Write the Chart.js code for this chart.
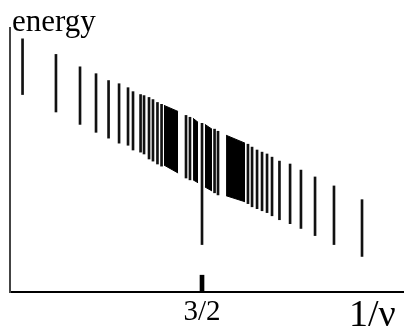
<!DOCTYPE html>
<html>
<head>
<meta charset="utf-8">
<script src="https://cdn.jsdelivr.net/npm/chart.js@4.4.1/dist/chart.umd.min.js"></script>
<style>
  html, body { margin: 0; padding: 0; background: #fff; }
  #wrap { width: 404px; height: 333px; position: relative; }
</style>
</head>
<body>
<div id="wrap"><canvas id="c"></canvas></div>
<script>
// Individual energy levels: position on the 1/nu axis, upper and lower energy
const levelX      = [0.098, 0.359, 0.547, 0.672, 0.770, 0.852, 0.922, 0.961, 1.020, 1.047, 1.086, 1.117, 1.152, 1.184,
                     1.375, 1.406, 1.500, 1.598, 1.625, 1.859, 1.891, 1.930, 1.969, 2.008, 2.047, 2.105, 2.188, 2.273,
                     2.383, 2.531, 2.750];
const levelTop    = [9.59, 9.00, 8.53, 8.27, 8.01, 7.89, 7.74, 7.59, 7.48, 7.44, 7.37, 7.29, 7.18, 7.11,
                     6.69, 6.62, 6.39, 6.17, 6.09, 5.60, 5.49, 5.38, 5.30, 5.23, 5.11, 4.96, 4.85, 4.62,
                     4.36, 4.02, 3.50];
const levelBottom = [7.48, 6.82, 6.35, 6.05, 5.83, 5.64, 5.56, 5.38, 5.30, 5.23, 5.04, 4.96, 4.85, 4.77,
                     4.32, 4.25, 1.80, 3.76, 3.68, 3.35, 3.23, 3.16, 3.08, 3.01, 2.89, 2.74, 2.59, 2.41,
                     2.14, 1.80, 1.35];

// Dense bands of levels (accumulations): x range, top edge, bottom edge
const bandXStart   = [1.203, 1.430, 1.523, 1.688];
const bandXEnd     = [1.313, 1.469, 1.578, 1.836];
const bandTopStart = [7.07, 6.58, 6.35, 5.94];
const bandTopEnd   = [6.84, 6.43, 6.17, 5.64];
const bandBotStart = [4.81, 4.25, 3.98, 3.65];
const bandBotEnd   = [4.51, 4.14, 3.83, 3.42];

// Axis ticks
const tickValues = [1.5];
const tickLabels = ['3/2'];
const tickMarkHeight = 0.64;

const xMin = 0, xMax = 3.078, yMin = 0, yMax = 10;

const datasets = [];
datasets.push({
  type: 'bar',
  data: levelX.map((x, i) => ({ x: x, y: [levelBottom[i], levelTop[i]] })),
  backgroundColor: '#111',
  barThickness: 2,
  grouped: false,
  borderWidth: 0
});
datasets.push({
  type: 'bar',
  data: tickValues.map(v => ({ x: v, y: [0, tickMarkHeight] })),
  backgroundColor: '#000',
  barThickness: 4,
  grouped: false,
  borderWidth: 0
});
bandXStart.forEach((x0, i) => {
  datasets.push({
    type: 'line',
    data: [{ x: x0, y: bandTopStart[i] }, { x: bandXEnd[i], y: bandTopEnd[i] }],
    borderColor: '#000', borderWidth: 1, pointRadius: 0,
    backgroundColor: '#000', fill: '+1', tension: 0
  });
  datasets.push({
    type: 'line',
    data: [{ x: x0, y: bandBotStart[i] }, { x: bandXEnd[i], y: bandBotEnd[i] }],
    borderColor: '#000', borderWidth: 1, pointRadius: 0,
    fill: false, tension: 0
  });
});

const textPlugin = {
  id: 'texts',
  afterDraw(chart) {
    const ctx = chart.ctx, a = chart.chartArea;
    ctx.save();
    ctx.fillStyle = '#000';
    ctx.textBaseline = 'alphabetic';
    ctx.textAlign = 'left';
    ctx.font = '31px "Liberation Serif"';
    ctx.fillText('energy', a.left + 2, a.top + 3);
    ctx.font = '38px "Liberation Serif"';
    ctx.fillText('1/ν', a.right - 55, a.bottom + 34);
    ctx.restore();
  }
};

new Chart(document.getElementById('c'), {
  type: 'bar',
  data: { datasets: datasets },
  options: {
    responsive: true,
    maintainAspectRatio: false,
    animation: false,
    layout: { padding: { left: 10, right: 0, top: 28, bottom: 1 } },
    plugins: { legend: { display: false }, tooltip: { enabled: false } },
    scales: {
      x: {
        type: 'linear', min: xMin, max: xMax, offset: false,
        afterBuildTicks: axis => { axis.ticks = tickValues.map(v => ({ value: v })); },
        ticks: {
          autoSkip: false,
          padding: 4,
          color: '#000',
          font: { family: 'Liberation Serif', size: 29, lineHeight: 1.1 },
          callback: (v) => { const i = tickValues.indexOf(v); return i >= 0 ? tickLabels[i] : ''; }
        },
        grid: { display: false, drawTicks: false },
        border: { display: true, color: '#000', width: 2 }
      },
      y: {
        type: 'linear', min: yMin, max: yMax,
        ticks: { display: false },
        grid: { display: false, drawTicks: false },
        border: { display: true, color: '#444', width: 2 }
      }
    }
  },
  plugins: [textPlugin]
});
</script>
</body>
</html>
